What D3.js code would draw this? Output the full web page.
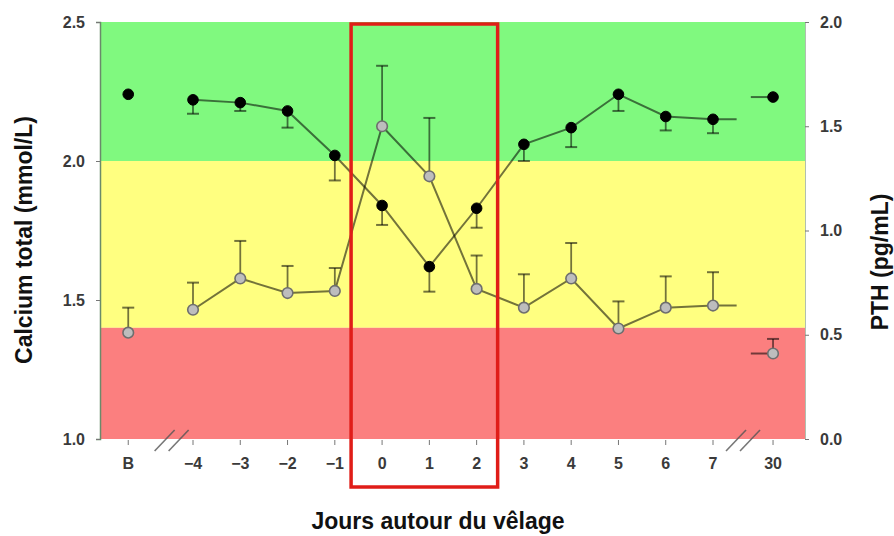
<!DOCTYPE html>
<html><head><meta charset="utf-8">
<script src="https://cdn.jsdelivr.net/npm/d3@7"></script>
<style>
html,body{margin:0;padding:0;background:#fff;}
svg{display:block;font-family:"Liberation Sans",Arial,sans-serif;}
</style></head>
<body><svg id="c" width="894" height="536"></svg>
<script>
// ---- data ----
const categories = ["B","-4","-3","-2","-1","0","1","2","3","4","5","6","7","30"];
const tickLabels = ["B","\u22124","\u22123","\u22122","\u22121","0","1","2","3","4","5","6","7","30"];
const calcium     = [2.24,2.22,2.21,2.18,2.02,1.84,1.62,1.83,2.06,2.12,2.24,2.16,2.15,2.23];
const calciumErr  = [0.00,0.05,0.03,0.06,0.09,0.07,0.09,0.07,0.06,0.07,0.06,0.05,0.05,0.00];
const pth         = [0.51,0.62,0.77,0.70,0.71,1.50,1.26,0.72,0.63,0.77,0.53,0.63,0.64,0.41];
const pthErr      = [0.12,0.13,0.18,0.13,0.11,0.29,0.28,0.16,0.16,0.17,0.13,0.15,0.16,0.07];
const leftTicks  = [1.0,1.5,2.0,2.5];
const rightTicks = [0.0,0.5,1.0,1.5,2.0];
const zones = [
  {from:2.0, to:2.5, color:"#80f97f"},
  {from:1.4, to:2.0, color:"#ffff80"},
  {from:1.0, to:1.4, color:"#fb7f7f"}
];
const highlightFrom = "0", highlightTo = "2";

// ---- layout ----
const svg = d3.select("#c");
const L = 100, R = 805, T = 22, B = 439;
const yL = d3.scaleLinear().domain([1.0,2.5]).range([B,T]);
const yR = d3.scaleLinear().domain([0,2]).range([B,T]);
const slot = categories.map((c,i)=> i===0 ? -5.37 : (i===categories.length-1 ? 8.27 : +c));
const x = d3.scaleLinear().domain([-4,7]).range([193,713]);
const X = i => x(slot[i]);

// zones
svg.selectAll("rect.zone").data(zones).join("rect")
  .attr("x",L).attr("width",R-L)
  .attr("y",d=>yL(d.to)).attr("height",d=>yL(d.from)-yL(d.to))
  .attr("fill",d=>d.color);

// axes
const tickCol = "#777", labCol = "#3a3a3a";
const gL = svg.append("g").attr("transform",`translate(${L},0)`)
  .call(d3.axisLeft(yL).tickValues(leftTicks).tickFormat(d3.format(".1f")).tickSize(4).tickPadding(11));
gL.select(".domain").attr("stroke","#6a8a6a").attr("stroke-width",1.5);
const gR = svg.append("g").attr("transform",`translate(${R},0)`)
  .call(d3.axisRight(yR).tickValues(rightTicks).tickFormat(d3.format(".1f")).tickSize(4).tickPadding(11));
gR.select(".domain").attr("stroke","#b0c0b0").attr("stroke-width",1);
const gX = svg.append("g").attr("transform",`translate(0,${B})`);
gX.selectAll("g").data(categories).join("g")
  .attr("transform",(d,i)=>`translate(${X(i)},0)`)
  .call(g=>{
    g.append("line").attr("y1",1).attr("y2",6).attr("stroke",tickCol);
    g.append("text").attr("y",30).attr("text-anchor","middle")
      .text((d,i)=>tickLabels[i]);
  });
[gL,gR].forEach(g=>g.selectAll(".tick line").attr("stroke",tickCol));
[gL,gR,gX].forEach(g=>g.attr("font-size",null).attr("font-family",null));
svg.selectAll("text")
  .attr("font-size",16).attr("font-weight","bold").attr("fill",labCol)
  .attr("font-family","'Liberation Sans',Arial,sans-serif");

// axis breaks
const brk = (cx)=>{
  [-7,7].forEach(o=>{
    svg.append("line").attr("x1",cx+o-10).attr("y1",B+12).attr("x2",cx+o+10).attr("y2",B-9)
      .attr("stroke","#555").attr("stroke-opacity",0.8).attr("stroke-width",1.6);
  });
};
brk((X(0)+X(1))/2 + 11);
brk((X(12)+X(13))/2);

// lines
const lineCol = "rgba(0,0,0,0.55)";
const mid = d3.range(1,13);
function drawSeries(vals, errs, y, dir, marker){
  const gg = svg.append("g");
  const ln = d3.line().x(d=>d[0]).y(d=>d[1]);
  gg.append("path").attr("fill","none").attr("stroke",lineCol).attr("stroke-width",2)
    .attr("d", ln(mid.map(i=>[X(i),y(vals[i])]).concat([[x(7.5),y(vals[12])]])));
  gg.append("path").attr("fill","none").attr("stroke",lineCol).attr("stroke-width",2)
    .attr("d", ln([[x(7.8),y(vals[13])],[X(13),y(vals[13])]]));
  vals.forEach((v,i)=>{
    if(!errs[i]) return;
    const y0=y(v), y1=y(v+dir*errs[i]);
    gg.append("line").attr("x1",X(i)).attr("x2",X(i)).attr("y1",y0).attr("y2",y1)
      .attr("stroke",lineCol).attr("stroke-width",1.8);
    gg.append("line").attr("x1",X(i)-6).attr("x2",X(i)+6).attr("y1",y1).attr("y2",y1)
      .attr("stroke",lineCol).attr("stroke-width",2);
  });
  gg.selectAll("circle").data(vals).join("circle")
    .attr("cx",(d,i)=>X(i)).attr("cy",d=>y(d)).attr("r",5.3)
    .attr("fill",marker.fill).attr("stroke",marker.stroke).attr("stroke-width",marker.sw);
}
drawSeries(pth, pthErr, yR, 1, {fill:"#bdbdbd",stroke:"#6e6e6e",sw:1.6});
drawSeries(calcium, calciumErr, yL, -1, {fill:"#000",stroke:"#000",sw:1});

// highlight box
const i0 = categories.indexOf(highlightFrom), i1 = categories.indexOf(highlightTo);
svg.append("rect")
  .attr("x", X(i0)-31).attr("y", T+2)
  .attr("width", (X(i1)+21)-(X(i0)-31)).attr("height", (B+48)-(T+2))
  .attr("fill","none").attr("stroke","#e01d18").attr("stroke-width",3.5);

// titles
const tg = svg.append("g")
  .attr("font-family","'Liberation Sans',Arial,sans-serif").attr("font-weight","bold")
  .attr("font-size",23).attr("fill","#111");
tg.append("text").attr("transform","translate(32,240) rotate(-90)").attr("text-anchor","middle")
  .text("Calcium total (mmol/L)");
tg.append("text").attr("transform","translate(888,262) rotate(-90)").attr("text-anchor","middle")
  .text("PTH (pg/mL)");
tg.append("text").attr("x",438).attr("y",529).attr("text-anchor","middle")
  .text("Jours autour du v\u00ealage");
</script></body></html>
